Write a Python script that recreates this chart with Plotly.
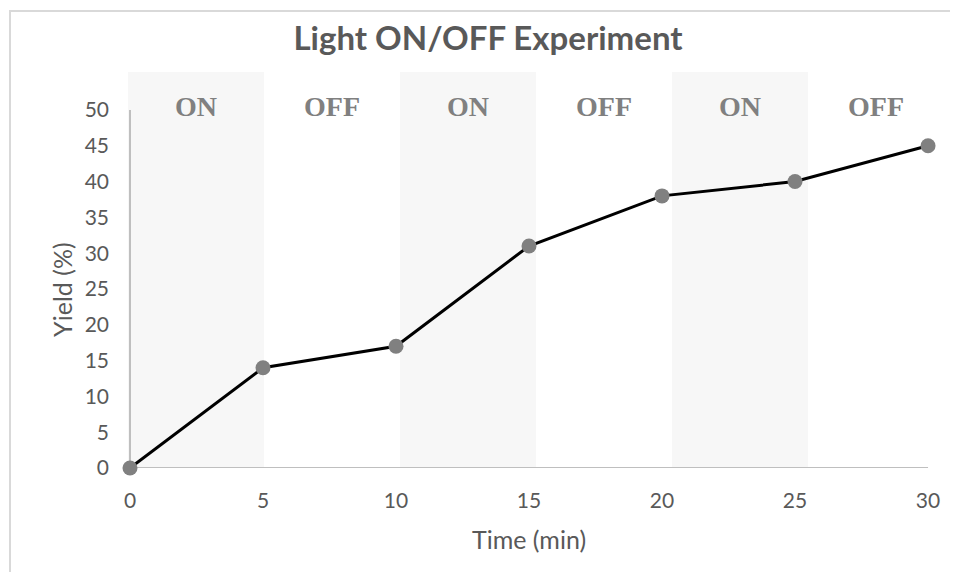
import plotly.graph_objects as go

# Data
time_min = [0, 5, 10, 15, 20, 25, 30]
yield_pct = [0, 14, 17, 31, 38, 40, 45]

phase_labels = ['ON', 'OFF', 'ON', 'OFF', 'ON', 'OFF']
phase_fill = ['#f7f7f7', 'rgba(0,0,0,0)', '#f7f7f7', 'rgba(0,0,0,0)', '#f7f7f7', 'rgba(0,0,0,0)']
phase_top = [55.3] * 6

x_ticks = [0, 5, 10, 15, 20, 25, 30]
y_ticks = [0, 5, 10, 15, 20, 25, 30, 35, 40, 45, 50]

sans = 'Lato'
grey_txt = '#595959'
axis_grey = '#bfbfbf'

fig = go.Figure()

# ON/OFF background columns (categorical base axis)
fig.add_trace(go.Bar(
    x=list(range(len(phase_labels))), y=phase_top,
    xaxis='x', yaxis='y',
    marker=dict(color=phase_fill, line=dict(width=0)),
    width=1, hoverinfo='skip', showlegend=False
))

# axis lines, drawn on the time axis so they sit above the columns
fig.add_trace(go.Scatter(
    x=[x_ticks[0], x_ticks[-1]], y=[y_ticks[0], y_ticks[0]], xaxis='x2', yaxis='y',
    mode='lines', line=dict(color=axis_grey, width=2), hoverinfo='skip',
    showlegend=False, cliponaxis=False
))
fig.add_trace(go.Scatter(
    x=[x_ticks[0], x_ticks[0]], y=[y_ticks[0], y_ticks[-1]], xaxis='x2', yaxis='y',
    mode='lines', line=dict(color=axis_grey, width=2), hoverinfo='skip',
    showlegend=False, cliponaxis=False
))

# Yield curve
fig.add_trace(go.Scatter(
    x=time_min, y=yield_pct, xaxis='x2', yaxis='y',
    mode='lines+markers',
    line=dict(color='black', width=3),
    marker=dict(color='#808080', size=15),
    cliponaxis=False, showlegend=False
))

# Phase labels
for i, lab in enumerate(phase_labels):
    fig.add_annotation(
        x=i, y=50.5, xref='x', yref='y', text='<b>' + lab + '</b>',
        showarrow=False, font=dict(family='Liberation Serif', size=28, color='#808080')
    )

# Axis titles
fig.add_annotation(x=15, y=-0.179, xref='x2', yref='paper', text='Time (min)',
                   xanchor='center', yanchor='middle',
                   showarrow=False, font=dict(family=sans, size=25, color=grey_txt))
fig.add_annotation(x=-0.081, y=25, xref='paper', yref='y', text='Yield (%)', textangle=-90,
                   xanchor='center', yanchor='middle',
                   showarrow=False, font=dict(family=sans, size=25, color=grey_txt))

# Chart border
fig.add_shape(type='rect', x0=-0.1446, x1=1.1, y0=-0.4, y1=1.154, xref='paper', yref='paper',
              line=dict(color='#d9d9d9', width=2), fillcolor='rgba(0,0,0,0)', layer='below')

fig.update_layout(
    title=dict(text='<b>Light ON/OFF Experiment</b>', x=480 / 942, xanchor='center',
               y=1 - 30 / 564, yanchor='middle', xref='container', yref='container',
               font=dict(family=sans, size=33, color=grey_txt)),
    width=942, height=564,
    margin=dict(l=120, r=6, t=64, b=104),
    paper_bgcolor='white', plot_bgcolor='white',
    bargap=0,
    xaxis=dict(range=[-0.5, 5.5], visible=False),
    xaxis2=dict(overlaying='x', anchor='y', side='bottom', range=[-0.075, 30.6],
                tickvals=x_ticks, showgrid=False, zeroline=False,
                showline=False, ticks='', ticklabelstandoff=18,
                tickfont=dict(family=sans, size=21, color=grey_txt)),
    yaxis=dict(range=[0, 55.3], tickvals=y_ticks, showgrid=False, zeroline=False,
               showline=False, ticks='', ticklabelstandoff=18,
               tickfont=dict(family=sans, size=21, color=grey_txt)),
)

fig.write_html("out.html")
